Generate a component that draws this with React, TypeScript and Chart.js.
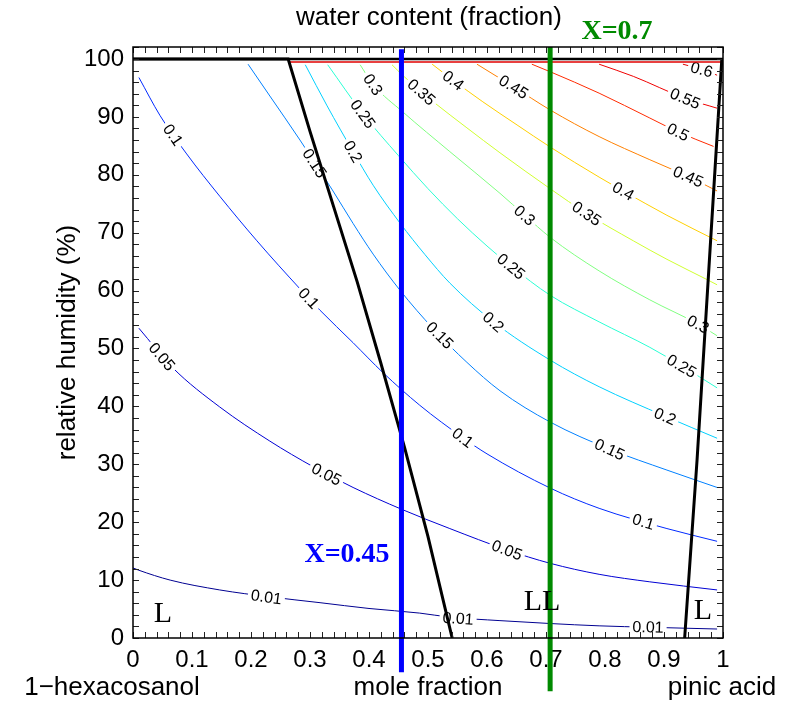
import React, { useEffect, useRef } from 'react';
import { Chart, registerables } from 'chart.js';

Chart.register(...registerables);

const SANS = "'Liberation Sans', Arial, Helvetica, sans-serif";
const SERIF = "'Liberation Serif', 'Times New Roman', serif";

// axis ticks
const xTickValues = [0, 0.1, 0.2, 0.3, 0.4, 0.5, 0.6, 0.7, 0.8, 0.9, 1];
const yTickValues = [0, 10, 20, 30, 40, 50, 60, 70, 80, 90, 100];
const xMinorStep = 0.02;
const yMinorStep = 2;
const xMax = 1;
const yMax = 102.07;

// contour levels of water content (fraction) : [x (mole fraction), y (RH %)]
const c001 = [[0, 12.1], [0.01, 11.7], [0.063, 10.0], [0.147, 8.3], [0.232, 7.1], [0.317, 6.1], [0.4, 5.1], [0.486, 4.3], [0.537, 3.6], [0.622, 3.0], [0.707, 2.5], [0.79, 2.1], [0.876, 1.85], [0.99, 1.55]];
const c005 = [[0.01, 53.5], [0.068, 46.6], [0.147, 39.9], [0.232, 34.0], [0.305, 29.6], [0.373, 26.0], [0.456, 22.2], [0.537, 18.9], [0.634, 15.2], [0.707, 12.9], [0.79, 11.0], [0.876, 9.7], [0.99, 8.3]];
const c010 = [[0.01, 96.8], [0.046, 90.2], [0.091, 83.6], [0.147, 76.3], [0.21, 68.6], [0.283, 60.3], [0.317, 56.6], [0.373, 51.0], [0.424, 45.8], [0.486, 40.2], [0.559, 34.6], [0.6, 31.8], [0.707, 25.9], [0.79, 22.4], [0.905, 18.9], [0.99, 16.7]];
const c015 = [[0.195, 99.1], [0.232, 93.6], [0.283, 86.0], [0.339, 77.2], [0.373, 71.6], [0.407, 66.3], [0.453, 60.0], [0.509, 53.4], [0.566, 47.6], [0.622, 42.7], [0.707, 37.3], [0.808, 32.6], [0.905, 29.0], [0.99, 26.0]];
const c020 = [[0.292, 99.0], [0.329, 91.9], [0.373, 84.0], [0.407, 78.2], [0.453, 71.6], [0.495, 66.2], [0.537, 61.3], [0.611, 54.6], [0.707, 48.0], [0.79, 43.4], [0.902, 38.3], [0.99, 34.5]];
const c025 = [[0.33, 99.0], [0.39, 90.5], [0.45, 83.3], [0.5, 77.6], [0.55, 72.4], [0.6, 67.7], [0.641, 64.2], [0.707, 59.2], [0.79, 54.6], [0.876, 50.2], [0.93, 47.0], [0.99, 43.2]];
const c030 = [[0.385, 99.0], [0.407, 95.6], [0.458, 90.8], [0.537, 84.0], [0.622, 76.8], [0.664, 73.0], [0.707, 69.2], [0.79, 63.4], [0.876, 58.4], [0.958, 54.2], [0.99, 52.2]];
const c035 = [[0.439, 99.0], [0.458, 97.1], [0.489, 94.3], [0.509, 92.6], [0.566, 88.1], [0.622, 83.8], [0.707, 77.6], [0.769, 73.3], [0.848, 68.6], [0.905, 65.4], [0.973, 61.9], [0.99, 61.0]];
const c040 = [[0.507, 99.1], [0.543, 96.3], [0.593, 92.6], [0.651, 88.6], [0.707, 84.8], [0.79, 79.6], [0.831, 77.2], [0.905, 73.0], [0.99, 68.6]];
const c045 = [[0.583, 99.1], [0.645, 95.2], [0.707, 91.2], [0.79, 86.6], [0.876, 82.6], [0.941, 79.7], [0.99, 77.2]];
const c050 = [[0.676, 99.1], [0.707, 97.8], [0.79, 94.1], [0.876, 89.8], [0.924, 87.4], [0.984, 84.9]];
const c055 = [[0.79, 99.1], [0.848, 97.0], [0.936, 93.2], [0.99, 91.5]];
const c060 = [[0.932, 99.1], [0.964, 98.2], [0.99, 97.2]];

// inline contour label positions
const l001 = [[0.226, 7.1], [0.551, 3.4], [0.873, 1.9]];
const l005 = [[0.049, 48.6], [0.328, 28.3], [0.634, 15.2]];
const l010 = [[0.068, 86.9], [0.298, 58.7], [0.559, 34.6], [0.865, 20.1]];
const l015 = [[0.308, 82.0], [0.52, 52.3], [0.808, 32.6]];
const l020 = [[0.373, 84.0], [0.611, 54.6], [0.902, 38.3]];
const l025 = [[0.39, 90.5], [0.641, 64.2], [0.93, 47.0]];
const l030 = [[0.407, 95.6], [0.664, 73.0], [0.958, 54.2]];
const l035 = [[0.489, 94.3], [0.769, 73.3]];
const l040 = [[0.543, 96.3], [0.831, 77.2]];
const l045 = [[0.645, 95.2], [0.941, 79.7]];
const l050 = [[0.924, 87.4]];
const l055 = [[0.936, 93.2]];
const l060 = [[0.964, 98.2]];

const contourLevels = ['0.01', '0.05', '0.1', '0.15', '0.2', '0.25', '0.3', '0.35', '0.4', '0.45', '0.5', '0.55', '0.6'];
const contourLines = [c001, c005, c010, c015, c020, c025, c030, c035, c040, c045, c050, c055, c060];
const contourLabels = [l001, l005, l010, l015, l020, l025, l030, l035, l040, l045, l050, l055, l060];
const contourColors = ['#000091', '#0000d4', '#002aff', '#0080ff', '#00d0ff', '#2affd4', '#80ff80', '#d0ff30', '#ffd000', '#ff8000', '#ff2a00', '#f00000', '#e00000'];

// phase boundaries
const leftBoundary = [[0, 100], [0.263, 100], [0.3, 87.5], [0.34, 74.5], [0.38, 61.5], [0.42, 47.5], [0.46, 33], [0.5, 17.5], [0.541, 0]];
const rightBoundary = [[0.998, 100], [0.978, 67], [0.956, 30.7], [0.935, 0]];
const topBoundary = [[0, 100], [1, 100]];
const saturationLine = [[0.263, 99.5], [1, 99.5]];

// marked compositions
const blueX = [[0.455, -5.9], [0.455, 101.7]];
const greenX = [[0.707, -9.2], [0.707, 102.07]];

const toXY = (arr: number[][]) => arr.map(([x, y]) => ({ x, y }));

export default function App() {
  const ref = useRef<HTMLCanvasElement | null>(null);

  useEffect(() => {
    if (!ref.current) return;

    const fixed = [
      { data: toXY(blueX), borderColor: '#0000ff', borderWidth: 5, clip: false as any },
      { data: toXY(greenX), borderColor: '#008a00', borderWidth: 5, clip: false as any },
      { data: toXY(leftBoundary), borderColor: '#000000', borderWidth: 3 },
      { data: toXY(rightBoundary), borderColor: '#000000', borderWidth: 3 },
      { data: toXY(topBoundary), borderColor: '#000000', borderWidth: 2.5 },
      { data: toXY(saturationLine), borderColor: '#e00000', borderWidth: 1.5 },
    ];
    const firstContour = fixed.length;
    const contours = contourLines.map((pts, i) => ({
      data: toXY(pts),
      borderColor: contourColors[i],
      borderWidth: 1,
      cubicInterpolationMode: 'monotone' as const,
    }));

    const labelPlugin = {
      id: 'contourLabels',
      afterDatasetDraw(chart: any, args: any) {
        if (args.index !== firstContour) return;
        const ctx = chart.ctx;
        const xs = chart.scales.x;
        const ys = chart.scales.y;
        const a = chart.chartArea;
        ctx.save();
        ctx.beginPath();
        ctx.rect(a.left, a.top, a.right - a.left, a.bottom - a.top);
        ctx.clip();
        ctx.font = `16px ${SANS}`;
        contourLines.forEach((line, i) => {
          const pts = line.map(([x, y]) => [xs.getPixelForValue(x), ys.getPixelForValue(y)]);
          contourLabels[i].forEach(([lx, ly]) => {
            const px = xs.getPixelForValue(lx);
            const py = ys.getPixelForValue(ly);
            let best = Infinity;
            let ang = 0;
            for (let k = 0; k < pts.length - 1; k++) {
              const [ax, ay] = pts[k];
              const [bx, by] = pts[k + 1];
              const dx = bx - ax, dy = by - ay;
              const len2 = dx * dx + dy * dy || 1;
              let t = ((px - ax) * dx + (py - ay) * dy) / len2;
              t = Math.max(0, Math.min(1, t));
              const qx = ax + t * dx - px, qy = ay + t * dy - py;
              const d = qx * qx + qy * qy;
              if (d < best) { best = d; ang = Math.atan2(dy, dx); }
            }
            if (ang > Math.PI / 2) ang -= Math.PI;
            if (ang < -Math.PI / 2) ang += Math.PI;
            const text = contourLevels[i];
            const w = ctx.measureText(text).width;
            ctx.save();
            ctx.translate(px, py);
            ctx.rotate(ang);
            ctx.fillStyle = '#ffffff';
            ctx.fillRect(-w / 2 - 3, -8, w + 6, 16);
            ctx.fillStyle = '#000000';
            ctx.textAlign = 'center';
            ctx.textBaseline = 'middle';
            ctx.fillText(text, 0, 1);
            ctx.restore();
          });
        });
        ctx.restore();
      },
    };

    const framePlugin = {
      id: 'frameAndText',
      afterDraw(chart: any) {
        const ctx = chart.ctx;
        const xs = chart.scales.x;
        const ys = chart.scales.y;
        const a = chart.chartArea;
        ctx.save();
        // inward ticks
        ctx.strokeStyle = '#222';
        ctx.lineWidth = 1;
        ctx.beginPath();
        for (let v = 0; v <= xMax + 1e-9; v += xMinorStep) {
          const px = Math.round(xs.getPixelForValue(v)) + 0.5;
          ctx.moveTo(px, a.bottom); ctx.lineTo(px, a.bottom - 6);
          ctx.moveTo(px, a.top); ctx.lineTo(px, a.top + 6);
        }
        for (let v = 0; v <= yMax + 1e-9; v += yMinorStep) {
          const py = Math.round(ys.getPixelForValue(v)) + 0.5;
          ctx.moveTo(a.left, py); ctx.lineTo(a.left + 6, py);
          ctx.moveTo(a.right, py); ctx.lineTo(a.right - 6, py);
        }
        ctx.stroke();
        // frame
        ctx.strokeStyle = '#000';
        ctx.lineWidth = 1.5;
        ctx.strokeRect(a.left, a.top, a.right - a.left, a.bottom - a.top);

        const cx = (a.left + a.right) / 2;
        ctx.fillStyle = '#000';
        ctx.textAlign = 'center';
        ctx.textBaseline = 'middle';
        ctx.font = `26px ${SANS}`;
        ctx.fillText('water content (fraction)', cx + 1, 18);
        ctx.fillText('mole fraction', xs.getPixelForValue(0.5), 688);
        ctx.fillText('1\u2212hexacosanol', 112, 688);
        ctx.fillText('pinic acid', 722, 688);
        ctx.save();
        ctx.translate(68, (a.top + a.bottom) / 2);
        ctx.rotate(-Math.PI / 2);
        ctx.fillText('relative humidity (%)', 0, 0);
        ctx.restore();

        ctx.font = `bold 28px ${SERIF}`;
        ctx.fillStyle = '#0000ff';
        ctx.fillText('X=0.45', 347, 555);
        ctx.fillStyle = '#008a00';
        ctx.fillText('X=0.7', 617, 32);

        ctx.fillStyle = '#000';
        ctx.font = `30px ${SERIF}`;
        ctx.fillText('L', 163, 614);
        ctx.fillText('LL', 542, 602);
        ctx.fillText('L', 703, 611);
        ctx.restore();
      },
    };

    const chart = new Chart(ref.current, {
      type: 'line',
      data: { datasets: [...fixed, ...contours] as any },
      options: {
        animation: false,
        responsive: false,
        maintainAspectRatio: false,
        devicePixelRatio: 1,
        layout: { padding: { left: 0, right: 69, top: 47, bottom: 0 } },
        elements: { point: { radius: 0 }, line: { tension: 0, fill: false } },
        plugins: { legend: { display: false }, tooltip: { enabled: false }, title: { display: false } },
        scales: {
          x: {
            type: 'linear',
            min: 0,
            max: xMax,
            grid: { display: false, drawTicks: false },
            border: { display: false },
            afterBuildTicks: (s: any) => { s.ticks = xTickValues.map((v) => ({ value: v })); },
            afterFit: (s: any) => { s.height = 64; },
            ticks: {
              padding: 8,
              color: '#000',
              font: { family: SANS, size: 24 },
              maxRotation: 0,
              autoSkip: false,
              callback: (v: any) => String(Math.round(Number(v) * 10) / 10),
            },
          },
          y: {
            type: 'linear',
            min: 0,
            max: yMax,
            grid: { display: false, drawTicks: false },
            border: { display: false },
            afterBuildTicks: (s: any) => { s.ticks = yTickValues.map((v) => ({ value: v })); },
            afterFit: (s: any) => { s.width = 133; },
            ticks: {
              padding: 9,
              color: '#000',
              font: { family: SANS, size: 24 },
              autoSkip: false,
              callback: (v: any) => String(v),
            },
          },
        },
      },
      plugins: [labelPlugin, framePlugin],
    });
    return () => chart.destroy();
  }, []);

  return (
    <div style={{ position: 'absolute', left: 0, top: 0, width: 792, height: 702, background: '#fff' }}>
      <canvas ref={ref} width={792} height={702} style={{ width: 792, height: 702, display: 'block' }} />
    </div>
  );
}
